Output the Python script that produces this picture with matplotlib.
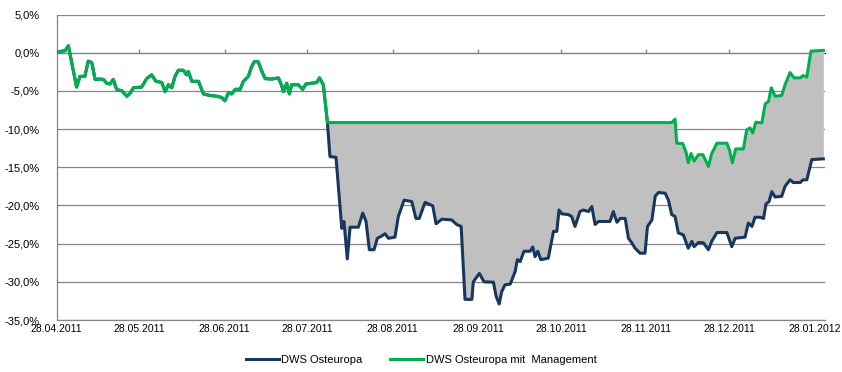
import numpy as np
import matplotlib
matplotlib.use("Agg")
import matplotlib.pyplot as plt
import matplotlib.dates as mdates
from matplotlib.ticker import FuncFormatter, MultipleLocator

plt.rcParams['font.family'] = ['Liberation Sans Narrow', 'Liberation Sans', 'DejaVu Sans']

START = np.datetime64('2011-04-28')

# shared part (both series identical) : days since 28.04.2011, value in %
shared_days = [0, 1.9, 3.1, 4.3, 7.3, 8.5, 10.3, 11.5, 12.8, 14.0, 15.8, 17.0, 18.2, 19.4,
               20.6, 21.8, 23.7, 25.5, 26.7, 27.9, 30.9, 32.7, 34.5, 36.1, 38.2, 39.4,
               40.6, 41.8, 43.0, 44.2, 46.0, 47.2, 47.8, 49.1, 51.5, 53.3, 55.7, 58.1,
               59.9, 61.1, 62.3, 63.6, 64.8, 66.6, 67.8, 69.6, 70.8, 71.8, 73.2, 74.5,
               75.7, 78.1, 80.5, 81.7, 82.3, 83.5, 84.5, 85.3, 87.7, 89.3, 90.5, 92.6,
               94.4, 95.4, 96.8]
shared_vals = [0.0, 0.2, 0.25, 0.9, -4.5, -3.1, -3.1, -1.1, -1.3, -3.5, -3.45, -3.5, -4.0,
               -4.1, -3.5, -4.8, -5.0, -5.7, -5.3, -4.6, -4.5, -3.4, -2.9, -3.75, -3.9,
               -5.1, -4.2, -4.6, -3.1, -2.3, -2.3, -2.9, -2.45, -3.75, -3.75, -5.4, -5.6,
               -5.7, -5.85, -6.3, -5.3, -5.4, -4.8, -4.8, -3.75, -3.1, -1.8, -1.15, -1.2,
               -2.45, -3.4, -3.45, -3.3, -4.3, -5.1, -4.0, -5.4, -4.2, -4.2, -4.8, -4.1,
               -4.0, -3.9, -3.3, -4.2]

# DWS Osteuropa after the split
fund_days = [98.3, 99.2, 101.4, 103.5, 104.3, 105.5, 106.5, 109.5, 111.1, 112.3, 113.5,
             115.2, 116.4, 118.0, 119.2, 120.4, 122.8, 124.0, 126.1, 128.9, 130.4, 131.6,
             133.7, 136.5, 137.7, 139.8, 143.4, 145.2, 146.8, 148.2, 150.7, 151.2, 153.4,
             155.1, 158.5, 159.5, 160.6, 161.5, 162.7, 164.6, 166.4, 167.2, 168.2, 169.6,
             171.8, 172.8, 173.6, 174.6, 175.7, 178.4, 180.3, 181.5, 182.3, 183.3, 185.7,
             186.9, 188.1, 189.9, 191.1, 193.0, 194.2, 195.4, 196.6, 200.8, 202.0, 203.3,
             204.5, 206.3, 207.5, 208.7, 209.9, 211.7, 213.5, 214.4, 216.0, 217.2, 218.4,
             220.8, 222.0, 223.2, 224.4, 225.6, 227.4, 229.2, 230.5, 231.3, 232.9, 234.7,
             236.5, 237.7, 239.6, 243.2, 245.0, 246.2, 249.8, 251.0, 252.3, 253.4, 255.3,
             256.5, 257.4, 258.5, 259.5, 260.7, 263.1, 264.3, 266.1, 267.3, 269.8, 270.8,
             272.2, 274.0, 278.2]
fund_vals = [-9.2, -13.6, -13.7, -23.0, -22.1, -27.0, -22.85, -22.85, -21.0, -22.1, -25.8,
             -25.8, -24.3, -24.0, -23.7, -24.3, -24.15, -21.45, -19.3, -19.5, -21.7, -21.7,
             -19.6, -20.05, -22.4, -21.8, -21.9, -22.5, -22.75, -32.3, -32.3, -30.0, -28.9,
             -30.0, -30.05, -31.9, -32.9, -31.3, -30.4, -30.3, -28.65, -27.1, -27.35, -26.0,
             -26.0, -25.45, -26.7, -26.0, -27.1, -26.9, -23.4, -23.4, -20.6, -21.1, -21.2,
             -21.45, -22.75, -20.8, -20.6, -20.8, -20.15, -22.5, -22.1, -22.1, -20.8, -22.2,
             -21.7, -21.7, -24.3, -24.9, -25.6, -26.25, -26.25, -22.75, -21.9, -18.8, -18.3,
             -18.4, -19.3, -21.2, -21.45, -23.6, -23.85, -25.6, -24.7, -25.4, -24.85, -24.9,
             -25.8, -24.7, -23.55, -23.55, -25.4, -24.3, -24.15, -22.3, -22.75, -21.55, -21.55,
             -21.7, -19.8, -19.5, -18.2, -18.9, -18.8, -17.5, -16.65, -17.0, -17.0, -16.65,
             -16.65, -14.0, -13.9]

# DWS Osteuropa mit Management after the split
mgmt_days = [98.3, 223.2, 224.4, 225.0, 227.2, 228.4, 229.2, 230.2, 231.3, 232.9, 234.5,
             236.5, 237.7, 239.6, 243.2, 244.1, 245.2, 246.4, 249.2, 250.4, 251.6, 252.6,
             253.7, 255.9, 257.1, 258.3, 259.3, 260.7, 263.1, 264.3, 266.1, 267.6, 269.8,
             270.8, 272.2, 273.7, 278.2]
mgmt_vals = [-9.15, -9.15, -8.7, -11.85, -11.9, -13.05, -14.4, -13.2, -14.2, -13.35, -13.35,
             -14.9, -13.2, -11.85, -11.85, -12.7, -14.4, -12.6, -12.6, -10.1, -9.85, -10.5,
             -9.1, -9.2, -6.7, -6.4, -4.6, -5.7, -5.6, -4.2, -2.6, -3.3, -3.3,
             -3.0, -3.2, 0.2, 0.3]

tick_labels = ['28.04.2011', '28.05.2011', '28.06.2011', '28.07.2011', '28.08.2011',
               '28.09.2011', '28.10.2011', '28.11.2011', '28.12.2011', '28.01.2012']
tick_dates = ['2011-04-28', '2011-05-28', '2011-06-28', '2011-07-28', '2011-08-28',
              '2011-09-28', '2011-10-28', '2011-11-28', '2011-12-28', '2012-01-28']

series_names = ['DWS Osteuropa', 'DWS Osteuropa mit  Management']
NAVY = '#17375E'
GREEN = '#00B050'
FILL = '#C0C0C0'
GRID = '#868686'


def to_dt(days):
    return START + (np.asarray(days) * 24 * 3600).astype('timedelta64[s]')


fund_d = np.array(shared_days + fund_days)
fund_v = np.array(shared_vals + fund_vals)
mgmt_d = np.array(shared_days + mgmt_days)
mgmt_v = np.array(shared_vals + mgmt_vals)

fig = plt.figure(figsize=(8.42, 3.72), dpi=100)
ax = fig.add_axes([56.5 / 842, 1 - 320 / 372, (825 - 56.5) / 842, (320 - 14.5) / 372])

# gray area between the two lines
grid_d = np.union1d(fund_days, mgmt_days)
lo = np.interp(grid_d, fund_d, fund_v)
hi = np.interp(grid_d, mgmt_d, mgmt_v)
ax.fill_between(to_dt(grid_d), lo, hi, color=FILL, linewidth=0, zorder=1)

ax.plot(to_dt(fund_d), fund_v, color=NAVY, lw=2.2, solid_joinstyle='round',
        label=series_names[0], zorder=3)
ax.plot(to_dt(mgmt_d), mgmt_v, color=GREEN, lw=2.2, solid_joinstyle='round',
        label=series_names[1], zorder=4)

ax.set_ylim(-35, 5)
ax.yaxis.set_major_locator(MultipleLocator(5))
ax.yaxis.set_major_formatter(FuncFormatter(lambda v, p: f"{v:.1f}%".replace('.', ',')))
ax.set_xlim(to_dt(0), to_dt(278.8))
ax.set_xticks(np.array(tick_dates, dtype='datetime64[s]'))
ax.set_xticklabels(tick_labels)

ax.grid(axis='y', color=GRID, lw=0.9, zorder=0)
ax.set_axisbelow(True)
for s in ['top', 'right']:
    ax.spines[s].set_visible(False)
ax.spines['left'].set_color(GRID)
ax.spines['left'].set_linewidth(0.9)
ax.spines['bottom'].set_color(GRID)
ax.spines['bottom'].set_linewidth(0.9)
ax.tick_params(axis='y', length=0, pad=12, labelsize=8, labelcolor='black')
ax.tick_params(axis='x', length=0, pad=3, labelsize=7.5, labelcolor='black')

# small tick marks on the 0 % line (category axis crossing)
sec = ax.secondary_xaxis(35 / 40)
sec.set_xticks(np.array(tick_dates, dtype='datetime64[s]'))
sec.set_xticklabels([''] * len(tick_dates))
sec.spines['bottom'].set_visible(False)
sec.tick_params(axis='x', direction='out', length=3, width=0.9, color=GRID)

leg = fig.legend(loc='center', bbox_to_anchor=(0.5, 1 - 360 / 372), ncol=2, frameon=False,
                 fontsize=8, handlelength=3.0, handletextpad=0.2, columnspacing=2.5)

fig.savefig('out.png', dpi=100)
